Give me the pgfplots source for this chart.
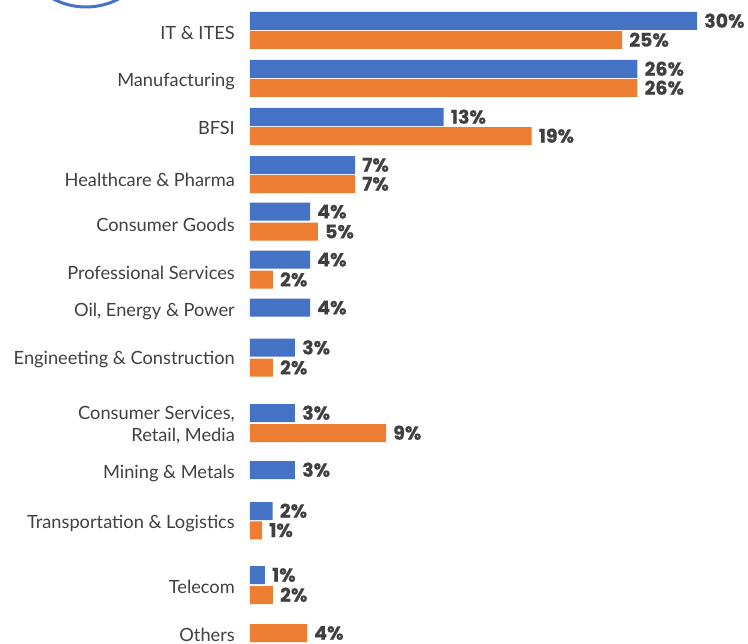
\documentclass[border=0pt]{standalone}
\usepackage{pgfplots}
\pgfplotsset{compat=1.18}
\usepackage{fontspec}
\setmainfont{Lato}
\newfontfamily\pop{Poppins}[BoldFeatures={FakeBold=0.6}]
\definecolor{cblue}{HTML}{4472C4}
\definecolor{corange}{HTML}{ED7D31}
\definecolor{ctext}{HTML}{404040}
\begin{document}
\begin{tikzpicture}
\begin{axis}[name=ax, scale only axis, width=498bp, height=644bp,
  xbar, bar width=18,
  xmin=0, xmax=33.42, ymin=0, ymax=644, y dir=reverse, enlargelimits=false,
  clip=false,
  axis line style={draw=none}, xtick=\empty, major tick length=0pt,
  ytick={33,80,128,180,224.5,272.5,310,358.3,435,472,521.5,586.5,634.5},
  yticklabels={IT \& ITES, Manufacturing, BFSI, Healthcare \& Pharma, Consumer Goods, Professional Services, {Oil, Energy \& Power}, Engineeting \& Construction, {Consumer Services,\\Retail, Media}, Mining \& Metals, Transportation \& Logistics, Telecom, Others},
  yticklabel style={font=\fontsize{18.3}{22}\selectfont, text=ctext, align=right, inner sep=0pt, text height=13bp, text depth=0pt, anchor=east, xshift=-15bp},
  point meta=explicit symbolic,
  nodes near coords={\pgfplotspointmeta},
  nodes near coords style={font=\pop\bfseries\fontsize{19}{19}\selectfont, text=ctext, anchor=west, inner sep=0pt, xshift=7bp, text height=13.4bp, text depth=0pt},
]
\addplot[fill=cblue, draw=none, bar shift=0pt] coordinates {
  (30.0,21) [30\%]
  (26.0,69) [26\%]
  (13.0,117) [13\%]
  (7.05,165) [7\%]
  (4.03,211.7) [4\%]
  (4.03,259.7) [4\%]
  (4.03,307.7) [4\%]
  (3.02,347.7) [3\%]
  (3.02,413) [3\%]
  (3.02,470) [3\%]
  (1.52,511) [2\%]
  (1.0,575) [1\%]
};
\addplot[fill=corange, draw=none, bar shift=0pt] coordinates {
  (24.97,40) [25\%]
  (26.0,88) [26\%]
  (18.9,136) [19\%]
  (7.05,184) [7\%]
  (4.56,231.7) [5\%]
  (1.54,279.7) [2\%]
  (1.54,367.7) [2\%]
  (9.13,433) [9\%]
  (0.81,530.3) [1\%]
  (1.54,595) [2\%]
  (3.83,633) [4\%]
};
\end{axis}
\draw[cblue, line width=3bp] ([xshift=-164bp, yshift=63bp]ax.north west) circle (70bp);
\pgfresetboundingbox
\path[use as bounding box] ([xshift=-250bp]ax.south west) rectangle (ax.north east);
\end{tikzpicture}
\end{document}
